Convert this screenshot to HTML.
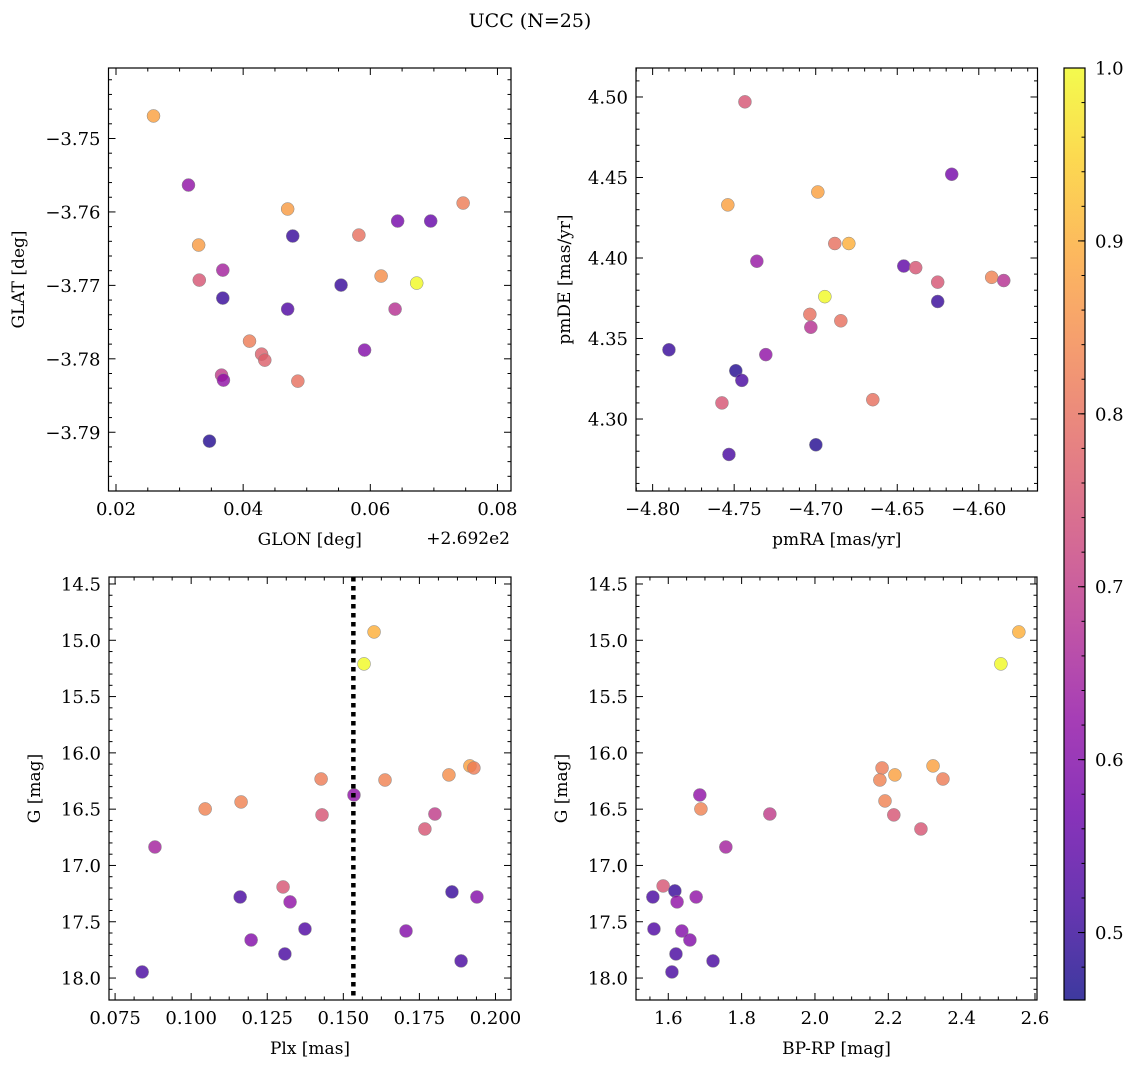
<!DOCTYPE html>
<html><head><meta charset="utf-8">
<style>
html,body{margin:0;padding:0;background:#fff;}
svg text{font-family:"DejaVu Serif","Liberation Serif",serif;fill:#000;}
</style></head>
<body>
<svg id="fig" width="1136" height="1067" viewBox="0 0 1136 1067" xmlns="http://www.w3.org/2000/svg">
<text x="530" y="27" font-size="19" text-anchor="middle">UCC (N=25)</text>
<defs>
<linearGradient id="cbgrad" x1="0" y1="1" x2="0" y2="0"></linearGradient>
</defs>
</svg>
<script>
// ---- data ----
const glon=[0.0259,0.0314,0.0330,0.0331,0.0368,0.0368,0.0470,0.0478,0.0470,0.0410,0.0429,0.0434,0.0366,0.0369,0.0486,0.0347,0.0554,0.0582,0.0617,0.0591,0.0639,0.0643,0.0695,0.0673,0.0746];
const glat=[-3.74693,-3.75634,-3.76451,-3.76928,-3.76792,-3.77173,-3.75960,-3.76328,-3.77323,-3.77759,-3.77936,-3.78018,-3.78222,-3.78290,-3.78304,-3.79121,-3.76996,-3.76315,-3.76873,-3.77881,-3.77323,-3.76124,-3.76124,-3.76969,-3.75879];
const probTL=[0.88,0.62,0.87,0.75,0.65,0.50,0.87,0.50,0.53,0.82,0.77,0.77,0.70,0.62,0.80,0.48,0.50,0.80,0.85,0.60,0.68,0.58,0.56,1.00,0.82];
const pmra=[-4.7434,-4.6166,-4.7539,-4.6987,-4.7361,-4.6883,-4.6797,-4.6944,-4.6460,-4.6387,-4.6252,-4.6252,-4.5921,-4.5847,-4.7900,-4.7036,-4.7030,-4.6846,-4.7306,-4.7490,-4.7453,-4.7575,-4.6650,-4.7532,-4.6999];
const pmde=[4.497,4.452,4.433,4.441,4.398,4.409,4.409,4.376,4.395,4.394,4.385,4.373,4.388,4.386,4.343,4.365,4.357,4.361,4.340,4.330,4.324,4.310,4.312,4.278,4.284];
const probTR=[0.75,0.58,0.88,0.88,0.63,0.80,0.90,1.00,0.55,0.75,0.75,0.50,0.83,0.68,0.50,0.80,0.68,0.80,0.62,0.48,0.52,0.75,0.80,0.52,0.48];
const plx=[0.1601,0.1568,0.1916,0.1929,0.1847,0.1427,0.1637,0.1535,0.1164,0.1046,0.1430,0.1801,0.1768,0.0881,0.1302,0.1161,0.1325,0.1857,0.1939,0.1374,0.1706,0.1197,0.1308,0.1887,0.0839];
const gmagBL=[14.926,15.210,16.116,16.134,16.196,16.232,16.241,16.374,16.436,16.498,16.551,16.543,16.676,16.836,17.191,17.280,17.324,17.235,17.280,17.564,17.582,17.662,17.786,17.848,17.946];
const probBL=[0.90,1.00,0.88,0.82,0.85,0.82,0.83,0.62,0.83,0.83,0.75,0.70,0.75,0.65,0.75,0.52,0.62,0.50,0.60,0.53,0.60,0.60,0.52,0.52,0.52];
const plxMedian=0.1533;
const bprp=[2.556,2.507,2.322,2.349,2.183,2.218,2.177,2.191,2.215,2.289,1.686,1.689,1.877,1.757,1.586,1.558,1.618,1.624,1.676,1.561,1.637,1.659,1.621,1.610,1.722];
const gmagBR=[14.926,15.210,16.116,16.232,16.134,16.196,16.241,16.427,16.551,16.676,16.374,16.498,16.543,16.836,17.182,17.280,17.226,17.324,17.280,17.564,17.582,17.662,17.786,17.946,17.848];
const probBR=[0.90,1.00,0.88,0.82,0.82,0.88,0.83,0.83,0.75,0.75,0.62,0.83,0.70,0.65,0.75,0.52,0.50,0.62,0.62,0.53,0.60,0.60,0.52,0.52,0.52];
const glonTicks=[0.02,0.04,0.06,0.08];
const glatTicks=[-3.79,-3.78,-3.77,-3.76,-3.75];
const pmraTicks=[-4.80,-4.75,-4.70,-4.65,-4.60];
const pmdeTicks=[4.30,4.35,4.40,4.45,4.50];
const plxTicks=[0.075,0.100,0.125,0.150,0.175,0.200];
const gTicks=[14.5,15.0,15.5,16.0,16.5,17.0,17.5,18.0];
const bprpTicks=[1.6,1.8,2.0,2.2,2.4,2.6];
const cbTicks=[0.5,0.6,0.7,0.8,0.9,1.0];
const vmin=0.461, vmax=1.0;

const NS="http://www.w3.org/2000/svg";
const svg=document.getElementById('fig');
function mk(tag,attrs,parent){const e=document.createElementNS(NS,tag);for(const k in attrs)e.setAttribute(k,attrs[k]);(parent||svg).appendChild(e);return e;}
const plasma=[[13,8,135],[65,4,157],[106,0,168],[143,13,164],[177,42,144],[204,71,120],[225,100,98],[242,132,75],[252,166,54],[252,206,37],[240,249,33]];
function cmap(v){let t=(v-vmin)/(vmax-vmin);t=Math.max(0,Math.min(1,t))*10;const i=Math.min(9,Math.floor(t));const f=t-i;const a=plasma[i],b=plasma[i+1];
 return 'rgb('+[0,1,2].map(k=>Math.round(a[k]+(b[k]-a[k])*f)).join(',')+')';}
function fmt(v,d){const s=v.toFixed(d);return s.replace('-','\u2212');}

function panel(name,box,xr,yr,xt,yt,xd,yd,xminorN,yminorN,xs,ys,cs,xlabel,ylabel,ylabX){
  const [L,T,R,B]=box;
  const g=mk('g',{});
  
  
  const X=v=>L+(v-xr[0])/(xr[1]-xr[0])*(R-L);
  const Y=v=>B-(v-yr[0])/(yr[1]-yr[0])*(B-T);
  const tickG=mk('g',{stroke:'#000','stroke-width':1},g);
  const xstep=xt[1]-xt[0], ystep=yt[1]-yt[0];
  function xTick(v,len){const x=X(v);if(x<L-0.1||x>R+0.1)return;mk('line',{x1:x,x2:x,y1:B,y2:B-len},tickG);mk('line',{x1:x,x2:x,y1:T,y2:T+len},tickG);}
  function yTick(v,len){const y=Y(v);if(y<T-0.1||y>B+0.1)return;mk('line',{x1:L,x2:L+len,y1:y,y2:y},tickG);mk('line',{x1:R,x2:R-len,y1:y,y2:y},tickG);}
  for(let k=-2;k<xt.length+2;k++){const base=xt[0]+k*xstep;for(let j=1;j<xminorN;j++)xTick(base+j*xstep/xminorN,3.5);}
  for(let k=-2;k<yt.length+2;k++){const base=yt[0]+k*ystep;for(let j=1;j<yminorN;j++)yTick(base+j*ystep/yminorN,3.5);}
  xt.forEach(v=>{xTick(v,7);const t=mk('text',{x:X(v),y:B+24,'font-size':18,'text-anchor':'middle'},g);t.textContent=fmt(v,xd);
    
    });
  yt.forEach(v=>{yTick(v,7);const t=mk('text',{x:L-8,y:Y(v)+6.5,'font-size':18,'text-anchor':'end'},g);t.textContent=fmt(v,yd);
    
    });
  const fr=mk('rect',{x:L,y:T,width:R-L,height:B-T,fill:'none',stroke:'#000','stroke-width':1.2},g);
  
  
  const xl=mk('text',{x:(L+R)/2,y:B+54,'font-size':17,'text-anchor':'middle'},g);xl.textContent=xlabel;
  
  
  const yl=mk('text',{x:0,y:0,'font-size':17,'text-anchor':'middle',transform:'translate('+ylabX+','+((T+B)/2)+') rotate(-90)'},g);yl.textContent=ylabel;
  
  
  const pg=mk('g',{},g);
  xs.forEach((v,i)=>{const c=mk('circle',{cx:X(v),cy:Y(ys[i]),r:6.5,fill:cmap(cs[i]),'fill-opacity':0.8,stroke:'#888','stroke-width':0.5},pg);
    
    });
  return {X,Y,g};
}
panel('panel-glon-glat',[108.5,68,511,491],[0.01882,0.08213],[-3.7980,-3.7404],glonTicks,glatTicks,2,2,4,5,glon,glat,probTL,'GLON [deg]','GLAT [deg]',24);
const off=mk('text',{x:510,y:544,'font-size':17,'text-anchor':'end'});off.textContent='+2.692e2';


panel('panel-pm',[636,68,1037.5,491],[-4.8102,-4.564],[4.2553,4.518],pmraTicks,pmdeTicks,2,2,5,5,pmra,pmde,probTR,'pmRA [mas/yr]','pmDE [mas/yr]',570);
const bl=panel('panel-plx-g',[109,577,511,1000],[0.0730,0.2051],[18.195,14.438],plxTicks,gTicks,3,1,4,5,plx,gmagBL,probBL,'Plx [mas]','G [mag]',40);
const dl=mk('line',{x1:bl.X(plxMedian),x2:bl.X(plxMedian),y1:577,y2:1000,stroke:'#000','stroke-width':4.5,'stroke-dasharray':'4.5,4.5'});


panel('panel-cmd',[636,577,1037,1000],[1.512,2.6055],[18.195,14.438],bprpTicks,gTicks,1,1,4,5,bprp,gmagBR,probBR,'BP-RP [mag]','G [mag]',567);
// colorbar
const grad=document.getElementById('cbgrad');
for(let i=0;i<=20;i++){const v=vmin+(vmax-vmin)*i/20;mk('stop',{offset:(i*5)+'%','stop-color':cmap(v),'stop-opacity':0.8},grad);}
const cbT=68,cbB=1000,cbL=1064,cbR=1085;
const cb=mk('rect',{x:cbL,y:cbT,width:cbR-cbL,height:cbB-cbT,fill:'url(#cbgrad)',stroke:'#000','stroke-width':1.2});


const CY=v=>cbB-(v-vmin)/(vmax-vmin)*(cbB-cbT);
for(let v=0.48;v<=1.0001;v+=0.02){const y=CY(v);mk('line',{x1:cbR,x2:cbR-3.5,y1:y,y2:y,stroke:'#000'});}
cbTicks.forEach(v=>{const y=CY(v);mk('line',{x1:cbR,x2:cbR-7,y1:y,y2:y,stroke:'#000'});
  const t=mk('text',{x:cbR+10,y:y+6.5,'font-size':18});t.textContent=v.toFixed(1);
  
  });
</script>
</body></html>
